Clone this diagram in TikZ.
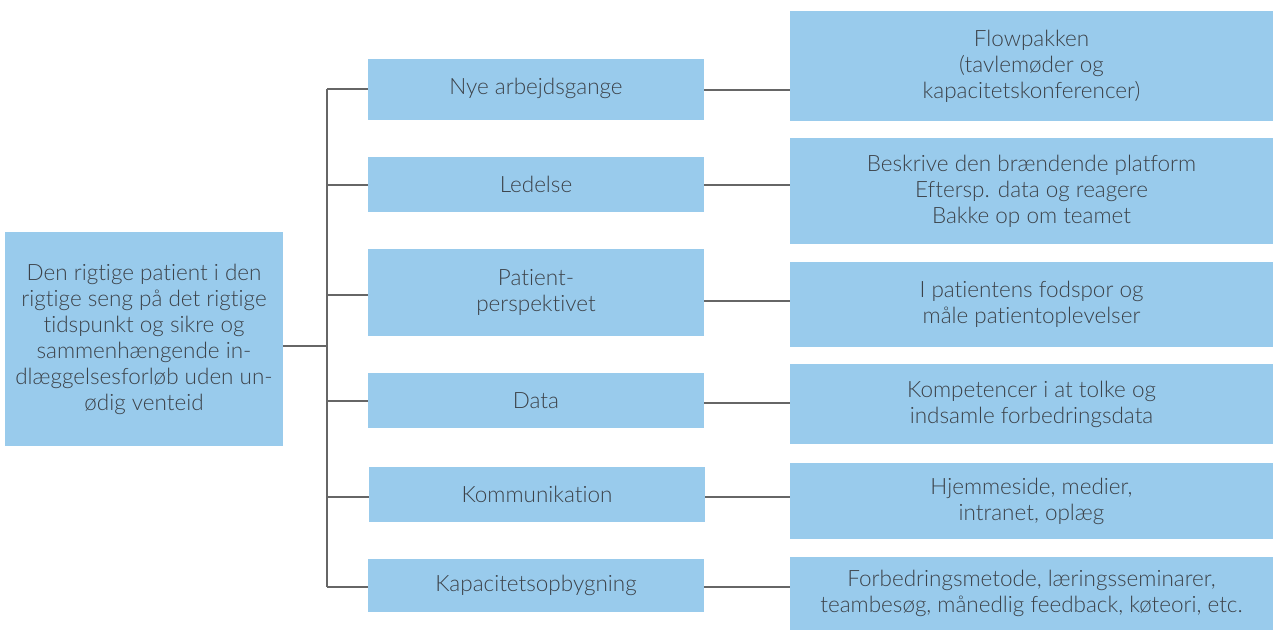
\documentclass[tikz,border=0pt]{standalone}
\usepackage{fontspec}
\setmainfont{Lato}[UprightFont=* Light, Ligatures={NoCommon, NoContextual}]
\definecolor{boxblue}{HTML}{99CBEC}
\definecolor{textgray}{HTML}{3C4249}
\definecolor{linegray}{HTML}{666666}
\begin{document}
\begin{tikzpicture}[x = 0.02cm, y = -0.02cm,
        box/.style = {fill = boxblue, text = textgray, align = center, inner sep = 0pt,
            font = \fontsize{12.8}{14.8}\selectfont},
        mid/.style = {box, minimum width = 6.72cm},
        res/.style = {box, minimum width = 9.66cm},
        link/.style = {draw = linegray, line width = 1pt}]
            \useasboundingbox (0, 0) rectangle (1273, 630);

            \node[box, minimum width = 5.56cm, minimum height = 4.28cm] (goal) at (144, 339) {Den rigtige patient i den \\ rigtige seng på det rigtige \\ tidspunkt og sikre og \\ sammenhængende in- \\ dlæggelsesforløb uden un- \\ ødig venteid};

            \node[mid, minimum height = 1.22cm] (m1) at (536, 89.5) {\raisebox{4pt}{Nye arbejdsgange}};
            \node[mid, minimum height = 1.10cm] (m2) at (536, 184.5) {Ledelse};
            \node[mid, minimum height = 1.74cm] (m3) at (536, 292.5) {Patient- \\ perspektivet};
            \node[mid, minimum height = 1.10cm] (m4) at (536, 400.5) {Data};
            \node[mid, minimum height = 1.10cm] (m5) at (537, 494.5) {Kommunikation};
            \node[mid, minimum height = 1.06cm] (m6) at (536, 585.5) {Kapacitetsopbygning};

            \node[res, minimum height = 2.20cm] (r1) at (1031.5, 66) {Flowpakken \\ (tavlemøder og \\ kapacitetskonferencer)};
            \node[res, minimum height = 2.12cm] (r2) at (1031.5, 191) {Beskrive den brændende platform \\ Eftersp. data og reagere \\ Bakke op om teamet};
            \node[res, minimum height = 1.70cm] (r3) at (1031.5, 304.5) {I patientens fodspor og \\ måle patientoplevelser};
            \node[res, minimum height = 1.60cm] (r4) at (1031.5, 404) {Kompetencer i at tolke og \\ indsamle forbedringsdata};
            \node[res, minimum height = 1.52cm] (r5) at (1031.5, 501) {Hjemmeside, medier, \\ intranet, oplæg};
            \node[res, minimum height = 1.46cm] (r6) at (1031.5, 593.5) {Forbedringsmetode, læringsseminarer, \\ teambesøg, månedlig feedback, køteori, etc.};

            \coordinate (hub) at (327, 346);
            \coordinate (top) at (327, 89);
            \coordinate (bottom) at (327, 587);
            \draw[link] (goal.east |- hub) -- (hub);
            \draw[link] (top) -- (bottom);

            \foreach \i/\y in {1/89, 2/185, 3/295, 4/401, 5/497, 6/587} {
                \coordinate (b\i) at (327, \y);
                \draw[link] (b\i) -- (b\i -| m\i.west);
            }
            \foreach \i/\y in {1/90, 2/185, 3/301, 4/403, 5/497, 6/587} {
                \coordinate (e\i) at (704, \y);
                \draw[link] (e\i -| m\i.east) -- (e\i -| r\i.west);
            }
        \end{tikzpicture}
\end{document}
